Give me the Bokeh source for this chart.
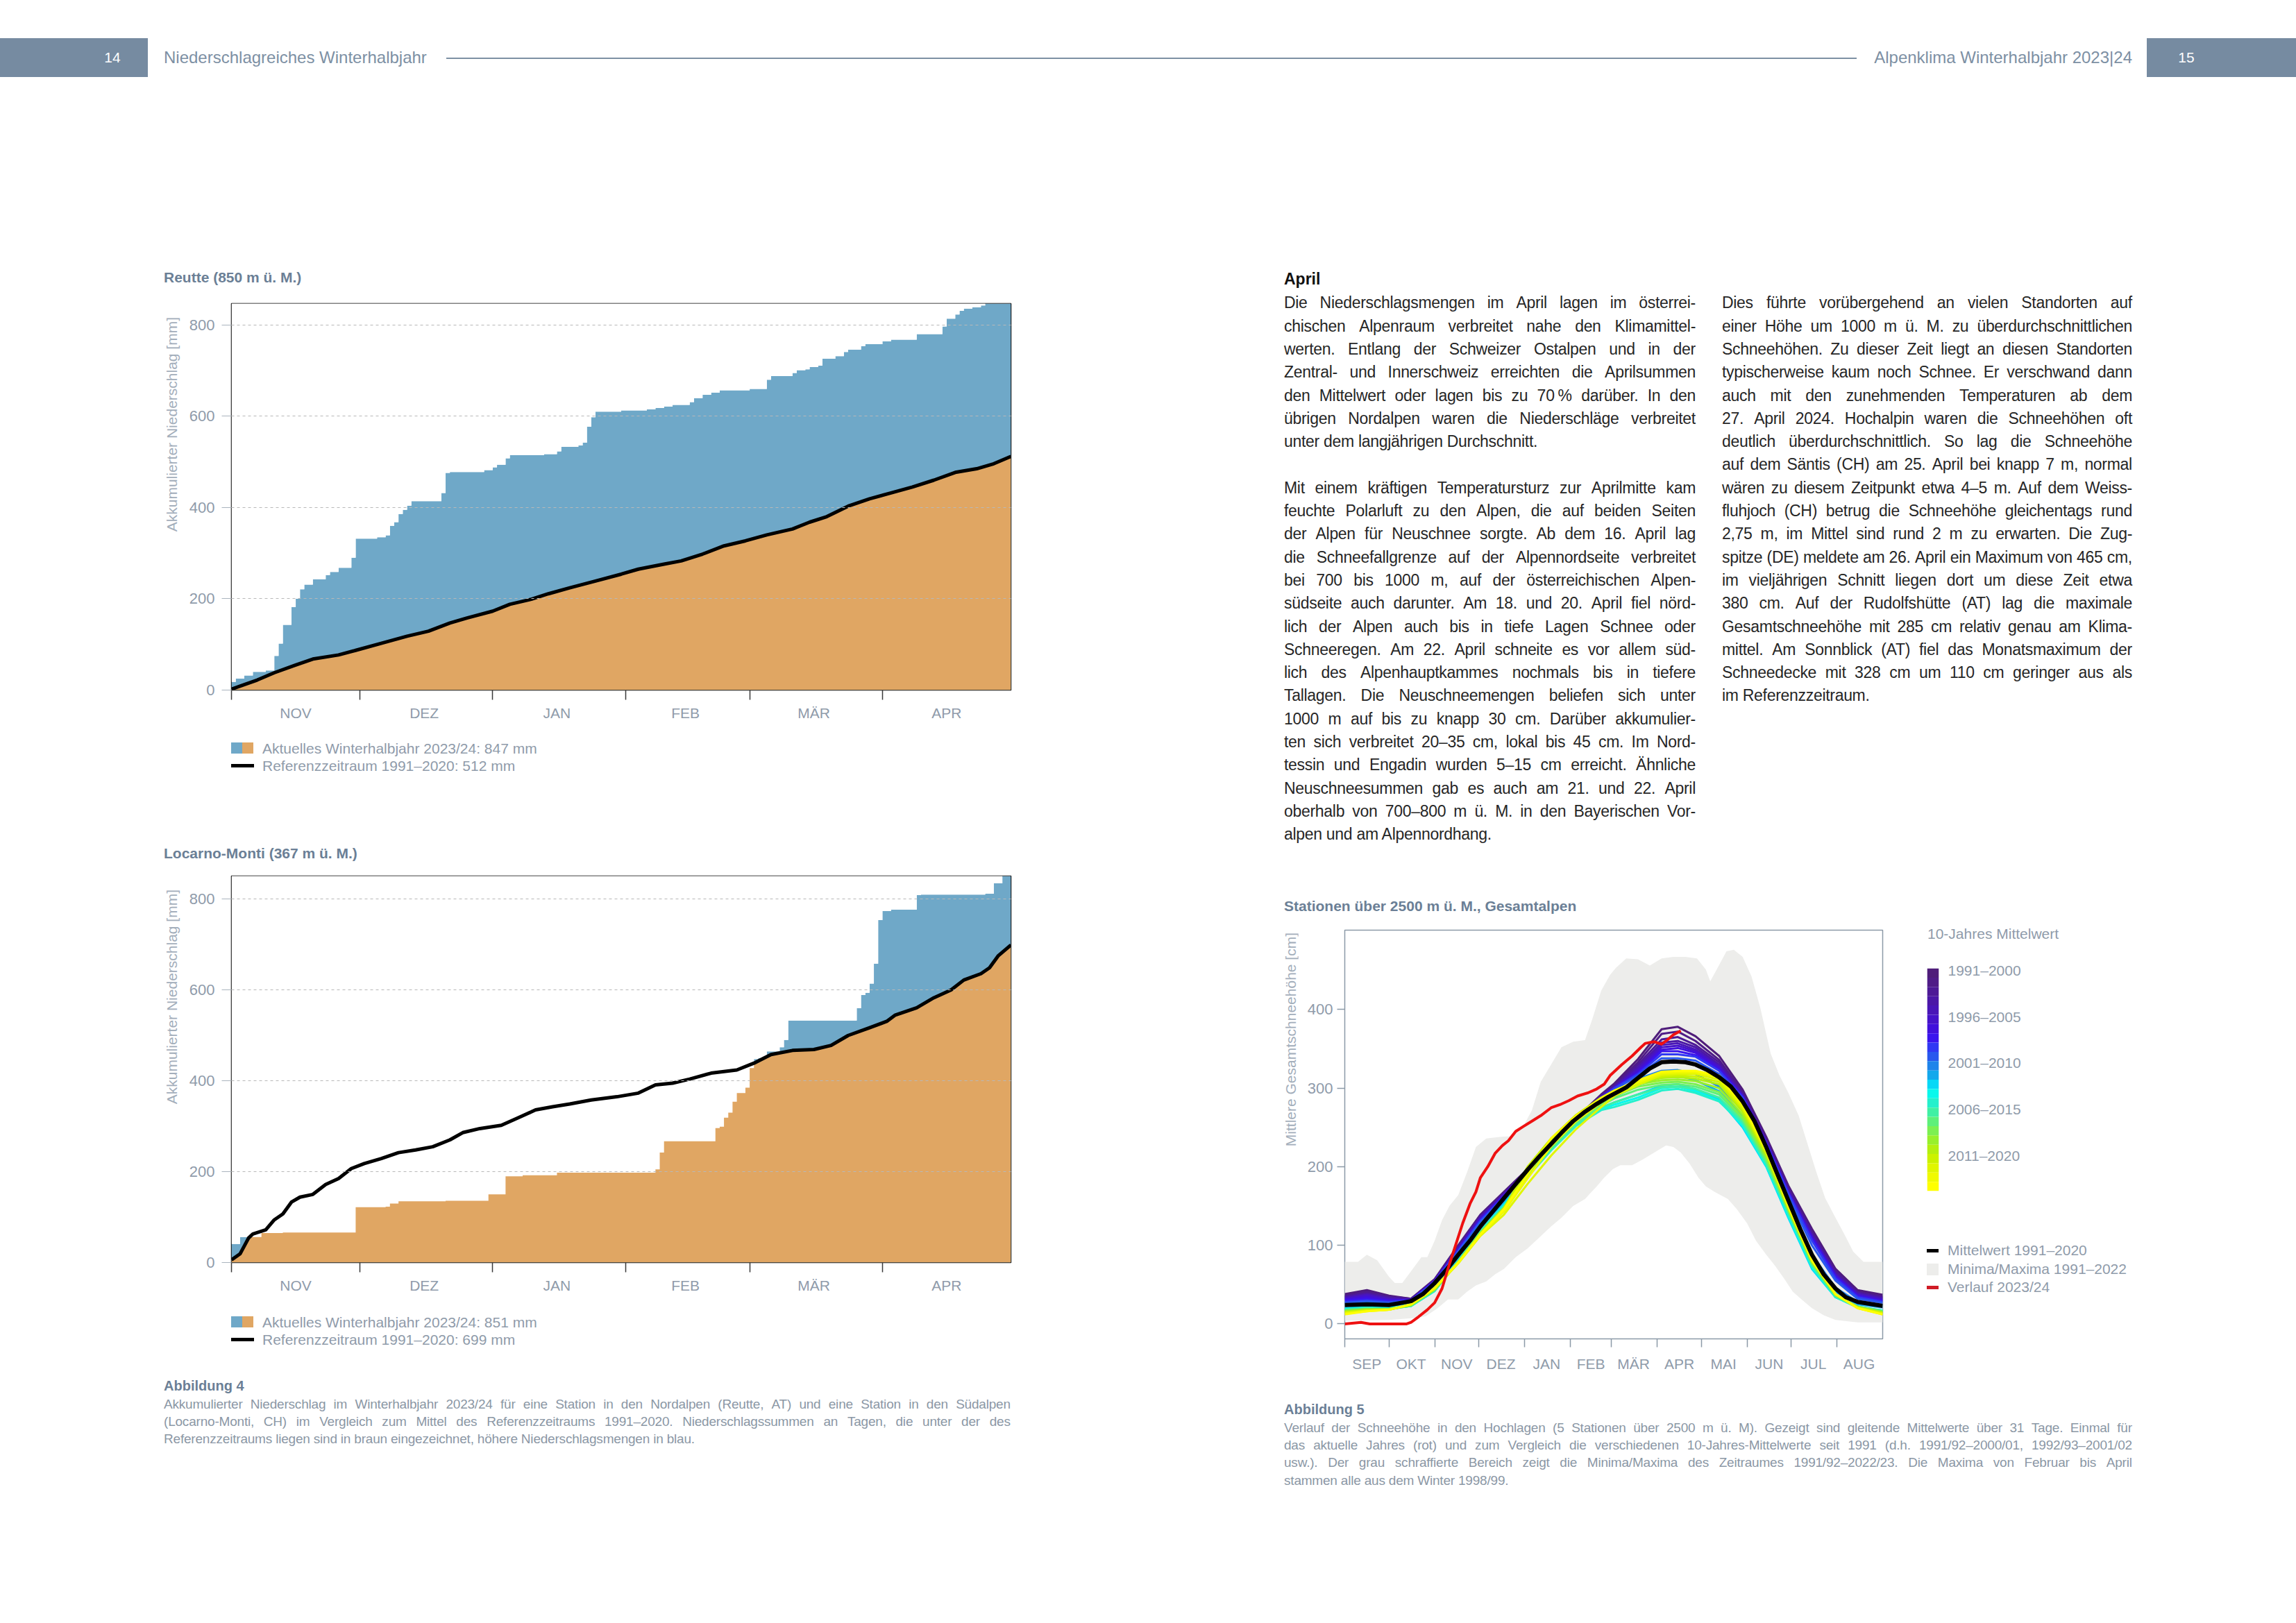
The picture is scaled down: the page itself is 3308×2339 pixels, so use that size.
import numpy as np
from bokeh.plotting import figure
from bokeh.layouts import column, row
from bokeh.models import Div, Spacer, Range1d, FixedTicker, ColumnDataSource
from bokeh.embed import file_html
from bokeh.resources import INLINE

# ------------------------------------------------------------------ data
WINTER_MONTHS = ["NOV", "DEZ", "JAN", "FEB", "MÄR", "APR"]
WINTER_MONTH_STARTS = [0, 30, 61, 92, 121, 152, 182]

# daily precipitation Reutte (mm), 1 Nov 2023 - 30 Apr 2024
REUTTE_DAILY_MM = [
    18, 7, 0, 7, 0, 8, 0, 0, 3, 0,
    32, 27, 41, 0, 39, 18, 21, 10, 0, 12,
    0, 0, 9, 7, 0, 9, 0, 0, 22, 42,
    0, 0, 0, 0, 3, 0, 4, 21, 8, 18,
    9, 9, 10, 0, 0, 0, 0, 0, 0, 18,
    44, 2, 0, 0, 0, 0, 0, 0, 0, 4,
    0, 6, 6, 0, 14, 7, 0, 0, 0, 0,
    0, 0, 0, 2, 0, 0, 6, 10, 0, 0,
    0, 3, 6, 35, 21, 12, 0, 0, 0, 0,
    0, 3, 0, 0, 0, 0, 0, 2, 0, 3,
    0, 3, 0, 4, 0, 0, 0, 6, 9, 0,
    7, 0, 5, 0, 5, 0, 0, 0, 0, 0,
    0, 3, 0, 0, 0, 20, 8, 0, 0, 0,
    0, 7, 6, 0, 2, 5, 0, 3, 15, 0,
    0, 6, 0, 9, 5, 0, 0, 8, 4, 0,
    0, 0, 6, 0, 4, 0, 0, 0, 0, 0,
    12, 0, 0, 0, 0, 0, 17, 17, 0, 9,
    8, 5, 0, 3, 0, 4, 4, 0, 0, 0,
    0, 0,
]
REUTTE_REF_DAYS = [0, 3, 6, 10, 15, 19, 25, 29, 36, 41, 46, 51, 55, 61, 65, 70, 74, 79, 85,
                   91, 95, 101, 105, 110, 115, 120, 125, 131, 135, 139, 144, 149, 154, 159,
                   164, 169, 174, 178, 182]
REUTTE_REF_MM = [2, 12, 22, 38, 55, 68, 77, 87, 105, 118, 129, 147, 158, 173, 188, 199, 211,
                 224, 239, 254, 265, 276, 283, 298, 316, 327, 340, 353, 368, 380, 403, 419,
                 432, 445, 460, 477, 485, 496, 512]

LOCARNO_DAILY_MM = [
    41, 0, 15, 0, 0, 0, 0, 9, 0, 0,
    0, 0, 1, 0, 0, 0, 0, 0, 0, 0,
    0, 0, 0, 0, 0, 0, 0, 0, 0, 56,
    0, 0, 0, 0, 0, 0, 1, 7, 0, 5,
    0, 0, 0, 0, 0, 0, 0, 0, 0, 0,
    1, 0, 0, 0, 0, 0, 0, 0, 0, 0,
    14, 0, 0, 0, 40, 0, 0, 0, 2, 0,
    0, 0, 0, 0, 0, 0, 6, 0, 0, 0,
    0, 0, 0, 0, 0, 0, 0, 0, 0, 0,
    0, 0, 0, 0, 0, 0, 0, 0, 0, 7,
    37, 25, 0, 0, 0, 0, 0, 0, 0, 0,
    0, 0, 0, 29, 3, 20, 11, 24, 19, 0,
    12, 43, 20, 2, 0, 15, 0, 0, 9, 16,
    43, 0, 0, 0, 0, 0, 0, 0, 0, 0,
    0, 0, 0, 0, 0, 0, 27, 29, 5, 20,
    44, 96, 20, 0, 3, 0, 0, 0, 0, 0,
    32, 1, 0, 0, 0, 0, 0, 0, 0, 0,
    0, 0, 0, 0, 0, 0, 2, 0, 23, 0,
    16, 0,
]
LOCARNO_REF_DAYS = [0, 2, 4, 5, 8, 10, 12, 14, 16, 19, 22, 25, 28, 31, 35, 39, 43, 47, 51,
                    54, 58, 63, 67, 71, 75, 79, 84, 90, 95, 99, 103, 107, 112, 118, 122,
                    126, 131, 136, 140, 144, 149, 153, 155, 160, 164, 168, 171, 175, 177,
                    179, 182]
LOCARNO_REF_MM = [6, 19, 54, 63, 72, 94, 107, 133, 144, 150, 172, 185, 207, 218, 229, 242,
                  248, 255, 270, 286, 295, 302, 319, 336, 343, 349, 358, 365, 373, 391, 395,
                  404, 417, 424, 439, 458, 467, 469, 478, 500, 517, 531, 545, 561, 583, 600,
                  622, 636, 649, 675, 699]

YEAR_MONTHS = ["SEP", "OKT", "NOV", "DEZ", "JAN", "FEB", "MÄR", "APR", "MAI", "JUN", "JUL", "AUG"]
YEAR_MONTH_STARTS = [0, 30, 61, 91, 122, 153, 181, 212, 242, 273, 303, 334, 365]

SNOW_MAX_DAYS = [0, 9, 15, 22, 30, 34, 39, 45, 52, 56, 61, 66, 71, 77, 83, 89, 96, 105, 114,
                 121, 127, 133, 140, 147, 155, 163, 168, 174, 180, 184, 191, 199, 207, 215,
                 223, 231, 239, 245, 248, 253, 259, 264, 270, 276, 282, 289, 295, 301, 308,
                 314, 320, 326, 333, 339, 345, 352, 365]
SNOW_MAX_CM = [79, 79, 88, 81, 60, 52, 52, 67, 85, 85, 106, 132, 150, 164, 193, 225, 236, 238,
               239, 251, 272, 308, 330, 352, 359, 361, 388, 424, 444, 453, 465, 464, 456, 465,
               467, 467, 465, 451, 436, 453, 474, 476, 467, 442, 402, 344, 316, 294, 265, 229,
               193, 160, 135, 114, 92, 79, 79]
SNOW_MIN_DAYS = [0, 30, 50, 55, 63, 70, 77, 83, 89, 96, 102, 108, 116, 124, 132, 140, 147,
                 155, 163, 171, 176, 182, 187, 195, 202, 210, 218, 223, 228, 234, 240, 245,
                 251, 260, 266, 273, 279, 286, 292, 298, 304, 310, 317, 325, 333, 348, 365]
SNOW_MIN_CM = [4, 5, 8, 10, 20, 31, 31, 41, 49, 54, 63, 70, 85, 96, 110, 124, 135, 150, 159,
               175, 186, 197, 202, 202, 209, 218, 227, 225, 218, 204, 186, 175, 168, 159, 146,
               128, 106, 88, 74, 58, 41, 31, 20, 11, 5, 2, 2]

MEAN_DAYS = [0, 15, 30, 45, 53, 61, 69, 77, 85, 92, 100, 108, 116, 124, 132, 140, 147, 155,
             163, 171, 179, 191, 207, 215, 223, 231, 238, 246, 254, 262, 270, 278, 286, 293,
             301, 309, 317, 325, 333, 340, 348, 365]
MEAN_CM = [24, 25, 24, 29, 38, 52, 69, 88, 106, 124, 142, 160, 178, 196, 213, 229, 243, 258,
           270, 280, 289, 301, 325, 333, 334, 333, 330, 323, 314, 302, 283, 258, 225, 193,
           157, 121, 88, 63, 45, 34, 28, 23]

SEASON_DAYS = [0, 11, 17, 42, 45, 50, 56, 61, 66, 70, 75, 80, 85, 89, 92, 97, 102, 107, 111,
               116, 121, 127, 133, 140, 146, 152, 158, 165, 171, 176, 180, 188, 195, 201, 204,
               210, 215, 218, 223, 228]
SEASON_CM = [0, 2, 0, 0, 2, 9, 18, 27, 45, 70, 99, 128, 153, 168, 186, 200, 217, 227, 233,
             245, 251, 258, 265, 275, 279, 284, 290, 294, 299, 305, 316, 330, 341, 352, 357,
             359, 356, 360, 368, 373]

DECADE_DAYS = [0, 15, 30, 45, 61, 77, 92, 108, 124, 140, 157, 174, 183, 199, 215, 226, 238,
               254, 270, 286, 301, 317, 333, 348, 365]
DECADE_CM = [
    [38, 43, 36, 32, 57, 100, 139, 168, 197, 232, 262, 292, 306, 337, 375, 378, 366, 341, 298, 238, 176, 121, 70, 43, 37],
    [36, 41, 35, 32, 56, 99, 138, 167, 196, 231, 261, 291, 304, 333, 369, 372, 360, 336, 295, 236, 174, 118, 68, 41, 35],
    [35, 39, 34, 31, 56, 98, 137, 166, 196, 230, 260, 290, 303, 330, 362, 365, 355, 333, 293, 234, 172, 116, 66, 40, 34],
    [34, 38, 33, 31, 55, 97, 136, 165, 195, 230, 260, 289, 302, 327, 358, 360, 352, 330, 292, 233, 170, 114, 64, 39, 33],
    [33, 37, 32, 31, 55, 96, 135, 165, 195, 229, 259, 289, 301, 325, 355, 357, 349, 328, 291, 232, 169, 112, 63, 38, 32],
    [32, 36, 31, 30, 55, 95, 134, 164, 194, 229, 259, 288, 301, 323, 352, 354, 347, 327, 290, 231, 168, 111, 62, 37, 31],
    [31, 34, 30, 30, 54, 94, 133, 163, 194, 228, 259, 288, 300, 321, 349, 351, 345, 325, 289, 230, 167, 110, 61, 36, 30],
    [30, 32, 29, 30, 54, 93, 132, 163, 193, 228, 258, 287, 300, 319, 347, 347, 342, 323, 289, 230, 166, 108, 60, 35, 29],
    [28, 30, 28, 30, 54, 93, 131, 162, 193, 227, 258, 287, 300, 318, 343, 343, 340, 322, 288, 229, 166, 106, 58, 34, 28],
    [27, 29, 27, 29, 53, 92, 130, 161, 192, 226, 257, 285, 298, 316, 338, 338, 335, 318, 286, 226, 162, 100, 55, 32, 27],
    [25, 27, 25, 28, 50, 88, 127, 158, 191, 225, 256, 282, 294, 312, 322, 323, 318, 302, 272, 216, 150, 88, 46, 28, 24],
    [23, 25, 23, 26, 47, 84, 123, 155, 190, 223, 255, 279, 289, 304, 314, 316, 310, 296, 264, 210, 144, 80, 40, 25, 21],
    [20, 22, 20, 23, 42, 80, 118, 152, 189, 222, 254, 275, 282, 292, 303, 305, 298, 286, 250, 200, 135, 70, 34, 22, 17],
    [19, 21, 20, 23, 42, 80, 118, 151, 188, 221, 253, 273, 279, 288, 300, 302, 296, 284, 252, 201, 137, 72, 34, 21, 17],
    [18, 20, 19, 23, 42, 80, 118, 150, 187, 221, 252, 272, 276, 285, 297, 299, 294, 283, 255, 203, 140, 74, 34, 21, 17],
    [18, 20, 19, 23, 43, 80, 117, 149, 188, 222, 254, 275, 282, 292, 301, 302, 299, 288, 257, 205, 142, 75, 35, 21, 16],
    [17, 19, 19, 24, 43, 79, 116, 148, 189, 224, 256, 278, 287, 298, 304, 305, 302, 292, 260, 208, 144, 77, 36, 22, 16],
    [17, 19, 19, 24, 44, 79, 116, 148, 190, 226, 258, 280, 290, 302, 307, 308, 305, 295, 262, 210, 145, 78, 37, 22, 16],
    [16, 18, 19, 24, 44, 78, 115, 147, 192, 230, 261, 283, 293, 305, 310, 311, 309, 300, 266, 213, 146, 79, 37, 21, 15],
    [15, 18, 18, 24, 45, 78, 115, 146, 195, 234, 263, 285, 295, 307, 313, 314, 312, 305, 270, 215, 147, 80, 37, 21, 14],
    [15, 17, 18, 25, 45, 78, 114, 147, 200, 236, 266, 288, 297, 308, 315, 316, 315, 308, 273, 217, 148, 80, 38, 21, 14],
    [14, 17, 18, 25, 45, 77, 112, 139, 178, 214, 248, 276, 290, 304, 317, 318, 318, 311, 275, 219, 149, 81, 38, 20, 13],
    [13, 16, 18, 25, 46, 78, 113, 143, 185, 226, 258, 282, 294, 307, 319, 320, 320, 314, 278, 221, 150, 81, 38, 20, 12],
    [12, 16, 18, 25, 46, 78, 114, 146, 190, 236, 265, 287, 297, 310, 321, 322, 322, 316, 280, 222, 150, 81, 38, 20, 12],
]
DECADE_COLORS = ["#4f1d7a", "#4f1c87", "#4d1a96", "#4b18a6", "#4916b7", "#4613c9", "#4110dc",
                 "#3a14ee", "#3038f4", "#2858ee", "#1f84ea", "#14a8ec", "#06d8f6", "#08f8ec",
                 "#24f0cc", "#40f0a4", "#5ef07a", "#7cf052", "#98f02c", "#b4f010", "#ccf200",
                 "#e0f600", "#f0fa00", "#ffff00"]
COLORBAR_LABELS = ["1991–2000", "1996–2005", "2001–2010", "2006–2015", "2011–2020"]

# ------------------------------------------------------------------ style
CF = "Liberation Sans"
CSSF = "'Liberation Sans', Arial, Helvetica, sans-serif"
GREY_TXT = "#8f9baa"
AXIS_LBL = "#a3aebb"
SLATE = "#6b7f96"
CAPTION = "#8b97a5"
BODY = "#262626"
BLUE = "#6fa8c8"
ORANGE = "#e0a663"
BOX = "#768ba1"
HDR = "#7d90a4"
BAND = "#ededeb"
RED = "#ee1111"


# ------------------------------------------------------------------ html helpers
def div(html, w, h):
    return Div(text=html, width=w, height=h, margin=0)


def wrap(inner, w, h):
    return (f'<div style="position:relative;width:{w}px;height:{h}px;'
            f'font-family:{CSSF};">{inner}</div>')


def text_line(text, left, center, width, pitch, size, color, justify, weight="normal",
              spacing="-0.3px"):
    top = center - pitch / 2.0
    base = (f"position:absolute;left:{left}px;top:{top:.1f}px;width:{width}px;"
            f"height:{pitch:.1f}px;line-height:{pitch:.1f}px;font-size:{size}px;"
            f"color:{color};font-weight:{weight};white-space:nowrap;letter-spacing:{spacing};")
    if justify:
        inner = "".join(f"<span>{w}</span>" for w in text.split(" "))
        return f'<div style="{base}display:flex;justify-content:space-between;">{inner}</div>'
    return f'<div style="{base}">{text}</div>'


def ylabel_div(text, w, h, left_edge, top_end, size=21):
    # rotated text reading bottom->top, its end placed at top_end
    inner = (f'<div style="position:absolute;right:{w - left_edge}px;top:{top_end}px;'
             f'font-size:{size}px;line-height:{size + 3}px;color:{AXIS_LBL};white-space:nowrap;'
             f'transform-origin:right top;transform:rotate(-90deg);">{text}</div>')
    return div(wrap(inner, w, h), w, h)


# ------------------------------------------------------------------ figures
def precip_figure(daily, ref_days, ref_mm, height, top_b):
    cum = np.cumsum(np.asarray(daily, dtype=float))
    n = len(daily)
    ytop = float(cum.max())
    xs = np.repeat(np.arange(n + 1), 2)[1:-1]
    ys = np.repeat(cum, 2)
    p = figure(width=1218, height=height, x_range=Range1d(0, n), y_range=Range1d(0, ytop),
               output_backend="svg", toolbar_location=None,
               min_border_left=71, min_border_right=24, min_border_top=top_b,
               min_border_bottom=61, margin=0)
    p.background_fill_color = "white"
    p.border_fill_color = "white"
    p.varea(x=xs, y1=0, y2=ys, fill_color=BLUE)
    p.varea(x=ref_days, y1=0, y2=ref_mm, fill_color=ORANGE)
    p.varea(x=xs, y1=ys, y2=ytop * 1.1, fill_color="white")
    p.line(x=ref_days, y=ref_mm, line_color="black", line_width=5, line_join="round")

    centers = [(a + b) // 2 for a, b in zip(WINTER_MONTH_STARTS[:-1], WINTER_MONTH_STARTS[1:])]
    xa = p.xaxis[0]
    xa.ticker = FixedTicker(ticks=centers, minor_ticks=WINTER_MONTH_STARTS[:-1])
    xa.major_label_overrides = dict(zip(centers, WINTER_MONTHS))
    xa.major_tick_line_color = None
    xa.major_tick_out = 0
    xa.major_tick_in = 0
    xa.minor_tick_out = 14
    xa.minor_tick_in = 0
    xa.minor_tick_line_color = "#3a3a3a"
    xa.minor_tick_line_width = 1.5
    xa.axis_line_color = None
    xa.major_label_standoff = 7
    xa.major_label_text_font = CF
    xa.major_label_text_font_size = "21px"
    xa.major_label_text_color = GREY_TXT

    ya = p.yaxis[0]
    ya.ticker = FixedTicker(ticks=[0, 200, 400, 600, 800])
    ya.major_tick_out = 14
    ya.major_tick_in = 0
    ya.major_tick_line_color = "#a9b3bd"
    ya.minor_tick_line_color = None
    ya.axis_line_color = None
    ya.major_label_standoff = 10
    ya.major_label_text_font = CF
    ya.major_label_text_font_size = "22px"
    ya.major_label_text_color = GREY_TXT

    p.xgrid.grid_line_color = None
    p.ygrid.ticker = FixedTicker(ticks=[200, 400, 600, 800])
    p.ygrid.grid_line_color = "#b8b8b8"
    p.ygrid.grid_line_dash = "4 4"
    p.ygrid.grid_line_width = 1
    p.ygrid.level = "annotation"
    p.outline_line_color = "black"
    p.outline_line_width = 1.5
    p.outline_line_alpha = 1
    return p


def snow_figure():
    p = figure(width=862, height=668, x_range=Range1d(0, 365), y_range=Range1d(-19, 501),
               output_backend="svg", toolbar_location=None,
               min_border_left=67, min_border_right=20, min_border_top=18,
               min_border_bottom=61, margin=0)
    p.background_fill_color = "white"
    p.border_fill_color = "white"
    p.patch(x=SNOW_MAX_DAYS + SNOW_MIN_DAYS[::-1], y=SNOW_MAX_CM + SNOW_MIN_CM[::-1],
            fill_color=BAND, line_color=None)
    src = ColumnDataSource(dict(xs=[DECADE_DAYS] * len(DECADE_CM), ys=DECADE_CM,
                                color=DECADE_COLORS))
    p.multi_line(xs="xs", ys="ys", line_color="color", line_width=3, source=src,
                 line_join="round")
    p.line(x=MEAN_DAYS, y=MEAN_CM, line_color="black", line_width=6, line_join="round")
    p.line(x=SEASON_DAYS, y=SEASON_CM, line_color=RED, line_width=4, line_join="round")

    centers = [(a + b) // 2 for a, b in zip(YEAR_MONTH_STARTS[:-1], YEAR_MONTH_STARTS[1:])]
    xa = p.xaxis[0]
    xa.ticker = FixedTicker(ticks=centers, minor_ticks=YEAR_MONTH_STARTS[:-1])
    xa.major_label_overrides = dict(zip(centers, YEAR_MONTHS))
    xa.major_tick_line_color = None
    xa.major_tick_out = 0
    xa.major_tick_in = 0
    xa.minor_tick_out = 12
    xa.minor_tick_in = 0
    xa.minor_tick_line_color = "#8c9aa8"
    xa.minor_tick_line_width = 1.5
    xa.axis_line_color = None
    xa.major_label_standoff = 12
    xa.major_label_text_font = CF
    xa.major_label_text_font_size = "21px"
    xa.major_label_text_color = GREY_TXT

    ya = p.yaxis[0]
    ya.ticker = FixedTicker(ticks=[0, 100, 200, 300, 400])
    ya.major_tick_out = 11
    ya.major_tick_in = 0
    ya.major_tick_line_color = "#8c9aa8"
    ya.major_tick_line_width = 1.5
    ya.minor_tick_line_color = None
    ya.axis_line_color = None
    ya.major_label_standoff = 6
    ya.major_label_text_font = CF
    ya.major_label_text_font_size = "22px"
    ya.major_label_text_color = GREY_TXT

    p.grid.grid_line_color = None
    p.outline_line_color = "#8c9aa8"
    p.outline_line_width = 1.5
    return p


def colorbar_figure():
    n = len(DECADE_COLORS)
    bottoms = [10 * (n - 1 - k) for k in range(n)]
    tops = [b + 10 for b in bottoms]
    p = figure(width=353, height=338, x_range=Range1d(0, 1), y_range=Range1d(0, 10 * n),
               output_backend="svg", toolbar_location=None, x_axis_location=None,
               y_axis_location="right", min_border_left=44, min_border_right=292,
               min_border_top=13, min_border_bottom=4, margin=0)
    p.background_fill_color = "white"
    p.border_fill_color = "white"
    p.outline_line_color = None
    p.grid.grid_line_color = None
    p.quad(left=0, right=1, bottom=bottoms, top=tops, fill_color=DECADE_COLORS,
           line_color=None)
    ticks = [10 * (n - 5 * j) - 2 for j in range(len(COLORBAR_LABELS))]
    ya = p.yaxis[0]
    ya.ticker = FixedTicker(ticks=ticks)
    ya.major_label_overrides = dict(zip(ticks, COLORBAR_LABELS))
    ya.major_tick_line_color = None
    ya.major_tick_out = 0
    ya.major_tick_in = 0
    ya.minor_tick_line_color = None
    ya.axis_line_color = None
    ya.major_label_standoff = 13
    ya.major_label_text_font = CF
    ya.major_label_text_font_size = "21px"
    ya.major_label_text_color = GREY_TXT
    return p


# ------------------------------------------------------------------ header
hdr_inner = (
    f'<div style="position:absolute;left:0px;top:55px;width:213px;height:56px;background:{BOX};"></div>'
    f'<div style="position:absolute;left:132px;top:55px;width:60px;height:56px;line-height:56px;'
    f'text-align:center;color:#ffffff;font-size:21px;">14</div>'
    f'<div style="position:absolute;left:236px;top:55px;height:56px;line-height:56px;color:{HDR};'
    f'font-size:24px;white-space:nowrap;">Niederschlagreiches Winterhalbjahr</div>'
    f'<div style="position:absolute;left:643px;top:83px;width:2032px;height:2px;background:{HDR};"></div>'
    f'<div style="position:absolute;left:2568px;width:504px;top:55px;height:56px;line-height:56px;'
    f'color:{HDR};font-size:24px;white-space:nowrap;text-align:right;">Alpenklima Winterhalbjahr 2023|24</div>'
    f'<div style="position:absolute;left:3093px;top:55px;width:215px;height:56px;background:{BOX};"></div>'
    f'<div style="position:absolute;left:3120px;top:55px;width:60px;height:56px;line-height:56px;'
    f'text-align:center;color:#ffffff;font-size:21px;">15</div>'
)
header = div(wrap(hdr_inner, 3308, 380), 3308, 380)


def title_div(text, w, h, left):
    inner = (f'<div style="position:absolute;left:{left}px;top:0px;height:{h}px;line-height:{h}px;'
             f'font-size:21px;font-weight:bold;color:{SLATE};white-space:nowrap;">{text}</div>')
    return div(wrap(inner, w, h), w, h)


def precip_legend(total, ref_total, h, c1):
    c2 = c1 + 25
    inner = (
        f'<div style="position:absolute;left:103px;top:{c1-8}px;width:16px;height:16px;background:{BLUE};"></div>'
        f'<div style="position:absolute;left:119px;top:{c1-8}px;width:16px;height:16px;background:{ORANGE};"></div>'
        + text_line(f"Aktuelles Winterhalbjahr 2023/24: {total} mm", 148, c1, 700, 25, 21, GREY_TXT, False, spacing="0px")
        + f'<div style="position:absolute;left:103px;top:{c2-2.5}px;width:33px;height:5px;background:#000;"></div>'
        + text_line(f"Referenzzeitraum 1991–2020: {ref_total} mm", 148, c2, 700, 25, 21, GREY_TXT, False, spacing="0px")
    )
    return div(wrap(inner, 1250, h), 1250, h)


# ------------------------------------------------------------------ left column
YLAB_P = "Akkumulierter Niederschlag [mm]"
title1 = title_div("Reutte (850 m ü. M.)", 1250, 40, 6)
fig1 = precip_figure(REUTTE_DAILY_MM, REUTTE_REF_DAYS, REUTTE_REF_MM, 635, 17)
row1 = row(ylabel_div(YLAB_P, 32, 635, 6, 37), fig1, spacing=0)
leg1 = precip_legend(int(sum(REUTTE_DAILY_MM)), REUTTE_REF_MM[-1], 65, 23)
title2 = title_div("Locarno-Monti (367 m ü. M.)", 1250, 36, 6)
fig2 = precip_figure(LOCARNO_DAILY_MM, LOCARNO_REF_DAYS, LOCARNO_REF_MM, 632, 14)
row2 = row(ylabel_div(YLAB_P, 32, 632, 6, 34), fig2, spacing=0)
leg2 = precip_legend(int(sum(LOCARNO_DAILY_MM)), LOCARNO_REF_MM[-1], 70, 25)

CAP4 = [
    ("Akkumulierter Niederschlag im Winterhalbjahr 2023/24 für eine Station in den Nordalpen (Reutte, AT) und eine Station in den Südalpen", True),
    ("(Locarno-Monti, CH) im Vergleich zum Mittel des Referenzzeitraums 1991–2020. Niederschlagssummen an Tagen, die unter der des", True),
    ("Referenzzeitraums liegen sind in braun eingezeichnet, höhere Niederschlagsmengen in blau.", False),
]
cap4_inner = text_line("Abbildung 4", 6, 48, 600, 25.3, 20, SLATE, False, "bold", "0px")
for i, (t, j) in enumerate(CAP4):
    cap4_inner += text_line(t, 6, 73.3 + 25.3 * i, 1220, 25.3, 19, CAPTION, j, spacing="-0.2px")
cap4 = div(wrap(cap4_inner, 1250, 160), 1250, 160)

left_col = column(title1, row1, leg1, Spacer(width=1250, height=92, margin=0), title2, row2,
                  leg2, cap4, spacing=0)

# ------------------------------------------------------------------ right column
COL1 = [
    ("Die Niederschlagsmengen im April lagen im österrei-", True),
    ("chischen Alpenraum verbreitet nahe den Klimamittel-", True),
    ("werten. Entlang der Schweizer Ostalpen und in der", True),
    ("Zentral- und Innerschweiz erreichten die Aprilsummen", True),
    ("den Mittelwert oder lagen bis zu 70\u202f% darüber. In den", True),
    ("übrigen Nordalpen waren die Niederschläge verbreitet", True),
    ("unter dem langjährigen Durchschnitt.", False),
    ("", False),
    ("Mit einem kräftigen Temperatursturz zur Aprilmitte kam", True),
    ("feuchte Polarluft zu den Alpen, die auf beiden Seiten", True),
    ("der Alpen für Neuschnee sorgte. Ab dem 16. April lag", True),
    ("die Schneefallgrenze auf der Alpennordseite verbreitet", True),
    ("bei 700 bis 1000 m, auf der österreichischen Alpen-", True),
    ("südseite auch darunter. Am 18. und 20. April fiel nörd-", True),
    ("lich der Alpen auch bis in tiefe Lagen Schnee oder", True),
    ("Schneeregen. Am 22. April schneite es vor allem süd-", True),
    ("lich des Alpenhauptkammes nochmals bis in tiefere", True),
    ("Tallagen. Die Neuschneemengen beliefen sich unter", True),
    ("1000 m auf bis zu knapp 30 cm. Darüber akkumulier-", True),
    ("ten sich verbreitet 20–35 cm, lokal bis 45 cm. Im Nord-", True),
    ("tessin und Engadin wurden 5–15 cm erreicht. Ähnliche", True),
    ("Neuschneesummen gab es auch am 21. und 22. April", True),
    ("oberhalb von 700–800 m ü. M. in den Bayerischen Vor-", True),
    ("alpen und am Alpennordhang.", False),
]
COL2 = [
    ("Dies führte vorübergehend an vielen Standorten auf", True),
    ("einer Höhe um 1000 m ü. M. zu überdurchschnittlichen", True),
    ("Schneehöhen. Zu dieser Zeit liegt an diesen Standorten", True),
    ("typischerweise kaum noch Schnee. Er verschwand dann", True),
    ("auch mit den zunehmenden Temperaturen ab dem", True),
    ("27. April 2024. Hochalpin waren die Schneehöhen oft", True),
    ("deutlich überdurchschnittlich. So lag die Schneehöhe", True),
    ("auf dem Säntis (CH) am 25. April bei knapp 7 m, normal", True),
    ("wären zu diesem Zeitpunkt etwa 4–5 m. Auf dem Weiss-", True),
    ("fluhjoch (CH) betrug die Schneehöhe gleichentags rund", True),
    ("2,75 m, im Mittel sind rund 2 m zu erwarten. Die Zug-", True),
    ("spitze (DE) meldete am 26. April ein Maximum von 465 cm,", True),
    ("im vieljährigen Schnitt liegen dort um diese Zeit etwa", True),
    ("380 cm. Auf der Rudolfshütte (AT) lag die maximale", True),
    ("Gesamtschneehöhe mit 285 cm relativ genau am Klima-", True),
    ("mittel. Am Sonnblick (AT) fiel das Monatsmaximum der", True),
    ("Schneedecke mit 328 cm um 110 cm geringer aus als", True),
    ("im Referenzzeitraum.", False),
]
PITCH = 33.3
txt_inner = text_line("April", 6, 23, 300, PITCH, 23, "#111111", False, "bold", "0px")
for i, (t, j) in enumerate(COL1):
    if t:
        txt_inner += text_line(t, 6, 57 + PITCH * i, 593, PITCH, 23, BODY, j)
for i, (t, j) in enumerate(COL2):
    txt_inner += text_line(t, 637, 57 + PITCH * i, 591, PITCH, 23, BODY, j)
text_div = div(wrap(txt_inner, 1241, 910), 1241, 910)

title3 = title_div("Stationen über 2500 m ü. M., Gesamtalpen", 1241, 32, 6)
fig3 = snow_figure()
ylab3 = ylabel_div("Mittlere Gesamtschneehöhe [cm]", 26, 668, 4, 22)

cbt_inner = text_line("10-Jahres Mittelwert", 45, 24, 300, 26, 21, GREY_TXT, False, spacing="0px")
cb_title = div(wrap(cbt_inner, 353, 60), 353, 60)
cb_fig = colorbar_figure()
lg_inner = (
    f'<div style="position:absolute;left:44px;top:80px;width:17px;height:5px;background:#000;"></div>'
    + text_line("Mittelwert 1991–2020", 74, 82, 280, 26, 21, GREY_TXT, False, spacing="0px")
    + f'<div style="position:absolute;left:44px;top:101px;width:17px;height:17px;background:{BAND};"></div>'
    + text_line("Minima/Maxima 1991–2022", 74, 109, 280, 26, 21, GREY_TXT, False, spacing="0px")
    + f'<div style="position:absolute;left:44px;top:133px;width:17px;height:5px;background:#d01c26;"></div>'
    + text_line("Verlauf 2023/24", 74, 135, 280, 26, 21, GREY_TXT, False, spacing="0px")
)
lg_div = div(wrap(lg_inner, 353, 270), 353, 270)
legend_col = column(cb_title, cb_fig, lg_div, spacing=0)
snow_row = row(ylab3, fig3, legend_col, spacing=0)

CAP5 = [
    ("Verlauf der Schneehöhe in den Hochlagen (5 Stationen über 2500 m ü. M). Gezeigt sind gleitende Mittelwerte über 31 Tage. Einmal für", True),
    ("das aktuelle Jahres (rot) und zum Vergleich die verschiedenen 10-Jahres-Mittelwerte seit 1991 (d.h. 1991/92–2000/01, 1992/93–2001/02", True),
    ("usw.). Der grau schraffierte Bereich zeigt die Minima/Maxima des Zeitraumes 1991/92–2022/23. Die Maxima von Februar bis April", True),
    ("stammen alle aus dem Winter 1998/99.", False),
]
cap5_inner = text_line("Abbildung 5", 6, 42, 600, 25.3, 20, SLATE, False, "bold", "0px")
for i, (t, j) in enumerate(CAP5):
    cap5_inner += text_line(t, 6, 67.3 + 25.3 * i, 1222, 25.3, 19, CAPTION, j, spacing="-0.2px")
cap5 = div(wrap(cap5_inner, 1241, 170), 1241, 170)

right_col = column(text_div, title3, snow_row, cap5, spacing=0)

body = row(Spacer(width=230, height=10, margin=0), left_col,
           Spacer(width=364, height=10, margin=0), right_col, spacing=0)
page = column(header, body, spacing=0)

open("out.html", "w").write(file_html(page, INLINE, title="Alpenklima Winterhalbjahr 2023|24"))
